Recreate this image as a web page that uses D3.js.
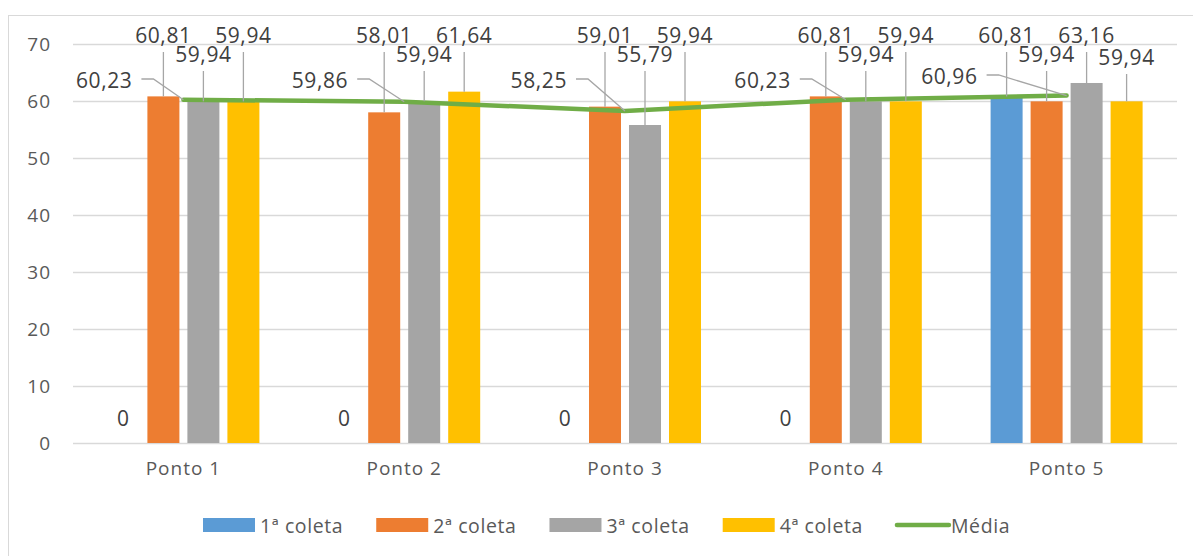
<!DOCTYPE html>
<html>
<head>
<meta charset="utf-8">
<script src="https://cdn.jsdelivr.net/npm/d3@7"></script>
<style>
  html, body { margin: 0; padding: 0; background: #fff; }
  svg { display: block; font-family: "Open Sans", "Noto Sans", sans-serif; }
</style>
</head>
<body>
<svg id="chart" width="1193" height="556"></svg>
<script>
// Categories, series and axis ticks
const categories = ["Ponto 1", "Ponto 2", "Ponto 3", "Ponto 4", "Ponto 5"];
const seriesNames = ["1ª coleta", "2ª coleta", "3ª coleta", "4ª coleta"];
const coleta1 = [0, 0, 0, 0, 60.81];
const coleta2 = [60.81, 58.01, 59.01, 60.81, 59.94];
const coleta3 = [59.94, 59.94, 55.79, 59.94, 63.16];
const coleta4 = [59.94, 61.64, 59.94, 59.94, 59.94];
const media = [60.23, 59.86, 58.25, 60.23, 60.96];
const mediaName = "Média";
const yTicks = [0, 10, 20, 30, 40, 50, 60, 70];

// Presentation
const colors = ["#5B9BD5", "#ED7D31", "#A5A5A5", "#FFC000"];
const lineColor = "#70AD47";
const gridColor = "#D9D9D9";
const axisText = "#595959";
const labelText = "#404040";
const leaderColor = "#A6A6A6";
// horizontal shift of each "Média" label (right edge relative to its point)
const mediaLabelShift = [-51, -56, -58, -55, -89];
const mediaLabelRise = [0, 0, 0, 0, -4];

const series = [coleta1, coleta2, coleta3, coleta4];
const fmt = v => d3.format(".2f")(v).replace(".", ",");

const svg = d3.select("#chart");
const W = 1193, H = 556;

// Chart frame
svg.append("rect")
  .attr("x", 8.5).attr("y", 15.5)
  .attr("width", W).attr("height", H)
  .attr("fill", "#fff").attr("stroke", gridColor).attr("stroke-width", 1);

const x = d3.scaleBand().domain(categories).range([73, 1177]);
const y = d3.scaleLinear().domain([0, 70]).range([443, 44]);
const groupWidth = 152;
const xs = d3.scaleBand().domain(seriesNames).range([0, groupWidth]).paddingInner(0.2);
const groupStart = c => x(c) + (x.bandwidth() - groupWidth) / 2;
const center = c => x(c) + x.bandwidth() / 2;

// Gridlines
svg.append("g").selectAll("line").data(yTicks).join("line")
  .attr("x1", 73).attr("x2", 1177)
  .attr("y1", d => Math.round(y(d)) + 0.5).attr("y2", d => Math.round(y(d)) + 0.5)
  .attr("stroke", gridColor).attr("stroke-width", 1.3);

const axisFont = g => g.selectAll("text")
  .attr("fill", axisText).style("font-size", "19px").style("letter-spacing", "1px")
  .style("font-family", "'Open Sans', sans-serif");

// Y axis labels
const yAxis = d3.axisLeft(y).tickValues(yTicks).tickSize(0).tickPadding(0);
const gy = svg.append("g").attr("transform", "translate(51,0)").call(yAxis);
gy.select(".domain").remove();
axisFont(gy);

// X axis labels
const xAxis = d3.axisBottom(x).tickSize(0).tickPadding(0);
const gx = svg.append("g").attr("transform", "translate(0,461)").call(xAxis);
gx.select(".domain").remove();
axisFont(gx);

// Bars
series.forEach((vals, si) => {
  svg.append("g").selectAll("rect").data(categories).join("rect")
    .attr("x", c => groupStart(c) + xs(seriesNames[si]))
    .attr("width", xs.bandwidth())
    .attr("y", (c, i) => y(vals[i]))
    .attr("height", (c, i) => y(0) - y(vals[i]))
    .attr("fill", colors[si]);
});

// Average line
const line = d3.line().x((d, i) => center(categories[i])).y(d => y(d));
svg.append("path").datum(media)
  .attr("d", line)
  .attr("fill", "none").attr("stroke", lineColor)
  .attr("stroke-width", 4.5).attr("stroke-linecap", "round").attr("stroke-linejoin", "round");

// Bar data labels with leader lines (alternating two rows above the plot)
const labels = svg.append("g")
  .style("font-size", "21px").style("letter-spacing", "0.6px").attr("fill", labelText);
const rowCenter = [35, 54];
categories.forEach((c, ci) => {
  let k = 0;
  series.forEach((vals, si) => {
    const v = vals[ci];
    const bx = groupStart(c) + xs(seriesNames[si]) + xs.bandwidth() / 2;
    if (v === 0) {
      labels.append("text").attr("x", bx).attr("y", y(0) - 25)
        .attr("text-anchor", "middle").attr("dominant-baseline", "central").text(fmt(v).replace(",00", ""));
      return;
    }
    const cy = rowCenter[k % 2] + (k === 3 ? 3 : 0);
    k++;
    labels.append("line")
      .attr("x1", bx).attr("x2", bx)
      .attr("y1", cy + 17).attr("y2", y(v))
      .attr("stroke", leaderColor).attr("stroke-width", 1.3);
    labels.append("text").attr("x", bx).attr("y", cy)
      .attr("text-anchor", "middle").attr("dominant-baseline", "central").text(fmt(v));
  });
});

// Average data labels with leader lines
media.forEach((v, i) => {
  const px = center(categories[i]), py = y(v);
  const right = px + mediaLabelShift[i];
  const cy = 80 + mediaLabelRise[i];
  labels.append("polyline")
    .attr("points", [[right + 9, cy - 1], [right + 21, cy - 1], [px, py]].map(p => p.join(",")).join(" "))
    .attr("fill", "none").attr("stroke", leaderColor).attr("stroke-width", 1.3);
  labels.append("text").attr("x", right).attr("y", cy)
    .attr("text-anchor", "end").attr("dominant-baseline", "central").text(fmt(v));
});

// Legend
const legend = svg.append("g").style("font-size", "19.5px").style("letter-spacing", "0.6px");
let lx = 203;
const ly = 525;
seriesNames.concat([mediaName]).forEach((name, i) => {
  if (i < 4) {
    legend.append("rect").attr("x", lx).attr("y", ly - 7).attr("width", 52).attr("height", 14).attr("fill", colors[i]);
  } else {
    legend.append("line").attr("x1", lx + 1).attr("x2", lx + 53).attr("y1", ly).attr("y2", ly)
      .attr("stroke", lineColor).attr("stroke-width", 4.5).attr("stroke-linecap", "round");
  }
  const t = legend.append("text").attr("x", lx + (i < 4 ? 57 : 55)).attr("y", ly)
    .attr("dominant-baseline", "central").attr("fill", axisText).text(name);
  lx += 57 + t.node().getComputedTextLength() + 33;
});
</script>
</body>
</html>
